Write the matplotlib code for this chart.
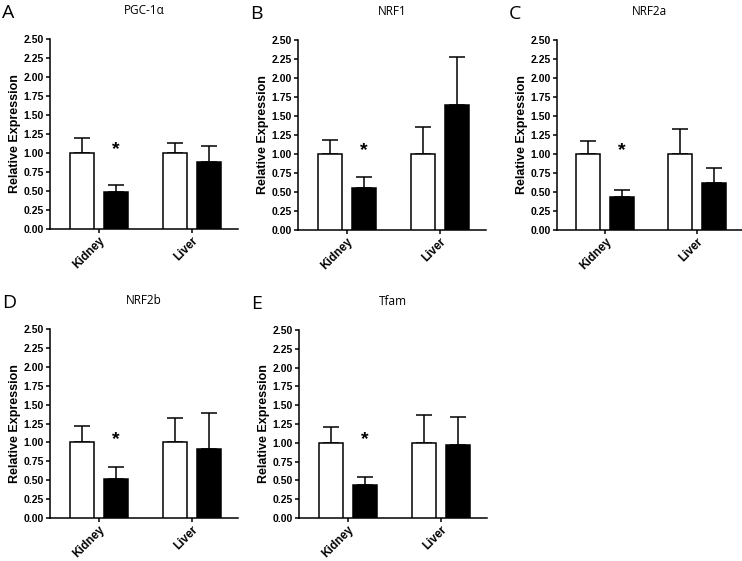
import matplotlib
matplotlib.use("Agg")
import matplotlib.pyplot as plt
import numpy as np

categories = ["Kidney", "Liver"]
titles = ["PGC-1α", "NRF1", "NRF2a", "NRF2b", "Tfam"]
letters = ["A", "B", "C", "D", "E"]
control_means = [[1.0, 1.0], [1.0, 1.0], [1.0, 1.0], [1.0, 1.0], [1.0, 1.0]]
control_upper = [[1.20, 1.13], [1.19, 1.35], [1.17, 1.33], [1.22, 1.32], [1.21, 1.37]]
treated_means = [[0.49, 0.88], [0.55, 1.64], [0.44, 0.62], [0.52, 0.91], [0.44, 0.97]]
treated_upper = [[0.58, 1.09], [0.70, 2.28], [0.53, 0.81], [0.68, 1.39], [0.54, 1.34]]
yticks = [0.0, 0.25, 0.5, 0.75, 1.0, 1.25, 1.5, 1.75, 2.0, 2.25, 2.5]

W, H = 742, 561
fig = plt.figure(figsize=(W / 100, H / 100), dpi=100)

# axes boxes in pixels: left, right, top, bottom
boxes = [(50, 238, 39, 229), (298, 486, 40, 230), (557, 742, 40, 230),
         (50, 238, 329, 518), (299, 487, 330, 518)]

bold = dict(family="Liberation Sans", weight="bold")
bw = 0.26
off = 0.185
lw = 1.1

for i, (l, r, t, b) in enumerate(boxes):
    ax = fig.add_axes([l / W, 1 - b / H, (r - l) / W, (b - t) / H])
    x = np.arange(len(categories))
    cm = np.array(control_means[i]); cu = np.array(control_upper[i])
    tm = np.array(treated_means[i]); tu = np.array(treated_upper[i])
    ax.bar(x - off, cm, width=bw, color="white", edgecolor="black", linewidth=lw, zorder=3)
    ax.bar(x + off, tm, width=bw, color="black", edgecolor="black", linewidth=lw, zorder=3)
    ax.errorbar(x - off, cm, yerr=[np.zeros_like(cm), cu - cm], fmt="none",
                ecolor="black", elinewidth=lw, capsize=5.5, capthick=lw, zorder=2)
    ax.errorbar(x + off, tm, yerr=[np.zeros_like(tm), tu - tm], fmt="none",
                ecolor="black", elinewidth=lw, capsize=5.5, capthick=lw, zorder=2)
    ax.text(x[0] + off, 1.04, "*", ha="center", va="center", fontsize=14,
            family="Liberation Sans", weight="bold")
    ax.set_ylim(0, 2.5)
    ax.set_xlim(-0.527, 1.495)
    ax.set_yticks(yticks)
    ax.set_yticklabels([f"{v:.2f}" for v in yticks], fontsize=7.5, **bold)
    ax.set_xticks(x)
    ax.set_xticklabels(categories, rotation=45, ha="right", rotation_mode="anchor",
                       fontsize=8.5, **bold)
    ax.set_ylabel("Relative Expression", fontsize=9, labelpad=2, **bold)
    for s in ["top", "right"]:
        ax.spines[s].set_visible(False)
    for s in ["left", "bottom"]:
        ax.spines[s].set_linewidth(lw)
    ax.tick_params(axis="both", direction="out", length=3, width=lw, pad=1.5)
    ax.tick_params(axis="x", pad=1)
    ax.set_title(titles[i], fontsize=8.5, family="Open Sans", pad=18)
    fig.text((l - 48) / W, 1 - (t - 26) / H, letters[i], fontsize=14,
             family="Open Sans", ha="left", va="center")

fig.savefig("out.png", dpi=100)
